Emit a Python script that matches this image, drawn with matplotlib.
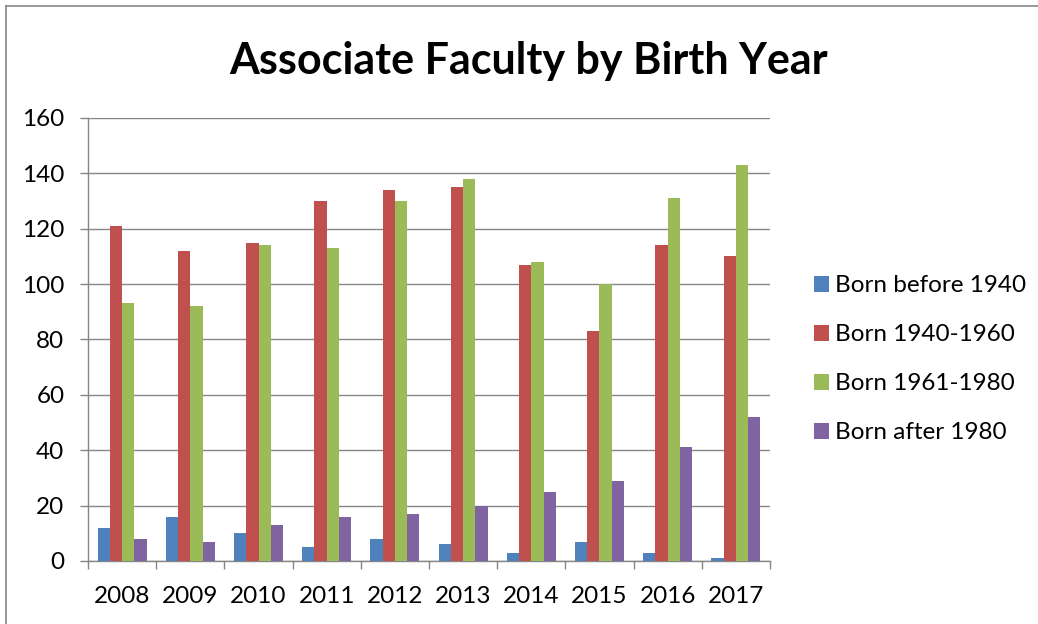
import numpy as np
from matplotlib import pyplot as plt
from matplotlib.lines import Line2D

plt.rcParams['font.family'] = ['Lato', 'DejaVu Sans']

years = ['2008', '2009', '2010', '2011', '2012', '2013', '2014', '2015', '2016', '2017']
born_before_1940 = [12, 16, 10, 5, 8, 6, 3, 7, 3, 1]
born_1940_1960 = [121, 112, 115, 130, 134, 135, 107, 83, 114, 110]
born_1961_1980 = [93, 92, 114, 113, 130, 138, 108, 100, 131, 143]
born_after_1980 = [8, 7, 13, 16, 17, 20, 25, 29, 41, 52]

series = [
    ('Born before 1940', born_before_1940, '#4F81BD'),
    ('Born 1940-1960', born_1940_1960, '#C0504D'),
    ('Born 1961-1980', born_1961_1980, '#9BBB59'),
    ('Born after 1980', born_after_1980, '#8064A2'),
]

grid_gray = '#868686'

fig = plt.figure(figsize=(10.38, 6.24), dpi=100)
ax = fig.add_axes([0.0848, 0.1010, 0.6570, 0.7099])

x = np.arange(len(years))
width = 0.18
for i, (label, values, color) in enumerate(series):
    ax.bar(x + (i - 1.5) * width, values, width, color=color, label=label, zorder=3)

ax.set_xlim(-0.5, len(years) - 0.5)
ax.set_ylim(0, 160)
ax.set_yticks(range(0, 161, 20))
ax.set_xticks(x)
ax.set_xticklabels(years)
ax.set_xticks(np.arange(-0.5, len(years), 1), minor=True)

ax.yaxis.grid(True, color=grid_gray, linewidth=1.0, zorder=0)
for side in ['top', 'right']:
    ax.spines[side].set_visible(False)
for side in ['left', 'bottom']:
    ax.spines[side].set_color(grid_gray)
    ax.spines[side].set_linewidth(1.0)

ax.tick_params(axis='y', direction='out', length=6, width=1.0, color=grid_gray,
               labelsize=17.5, pad=11)
ax.tick_params(axis='x', which='major', length=0, labelsize=17.5, pad=18)
ax.tick_params(axis='x', which='minor', direction='out', length=6, width=1.0,
               color=grid_gray)

fig.suptitle('Associate Faculty by Birth Year', x=0.509, y=0.935, fontsize=31,
             fontweight='bold')

ax.legend(loc='center left', bbox_to_anchor=(0.775, 0.424), bbox_transform=fig.transFigure,
          frameon=False, fontsize=17.5, handlelength=0.62, handleheight=0.62,
          handletextpad=0.25, labelspacing=1.15, borderaxespad=0)

# frame lines around the chart area
fig.add_artist(Line2D([5.5 / 1038, 5.5 / 1038], [0, 1 - 5.5 / 624],
                      color=grid_gray, linewidth=1.2))
fig.add_artist(Line2D([5.5 / 1038, 1], [1 - 5.5 / 624, 1 - 5.5 / 624],
                      color=grid_gray, linewidth=1.2))

fig.savefig('out.png', dpi=100)
